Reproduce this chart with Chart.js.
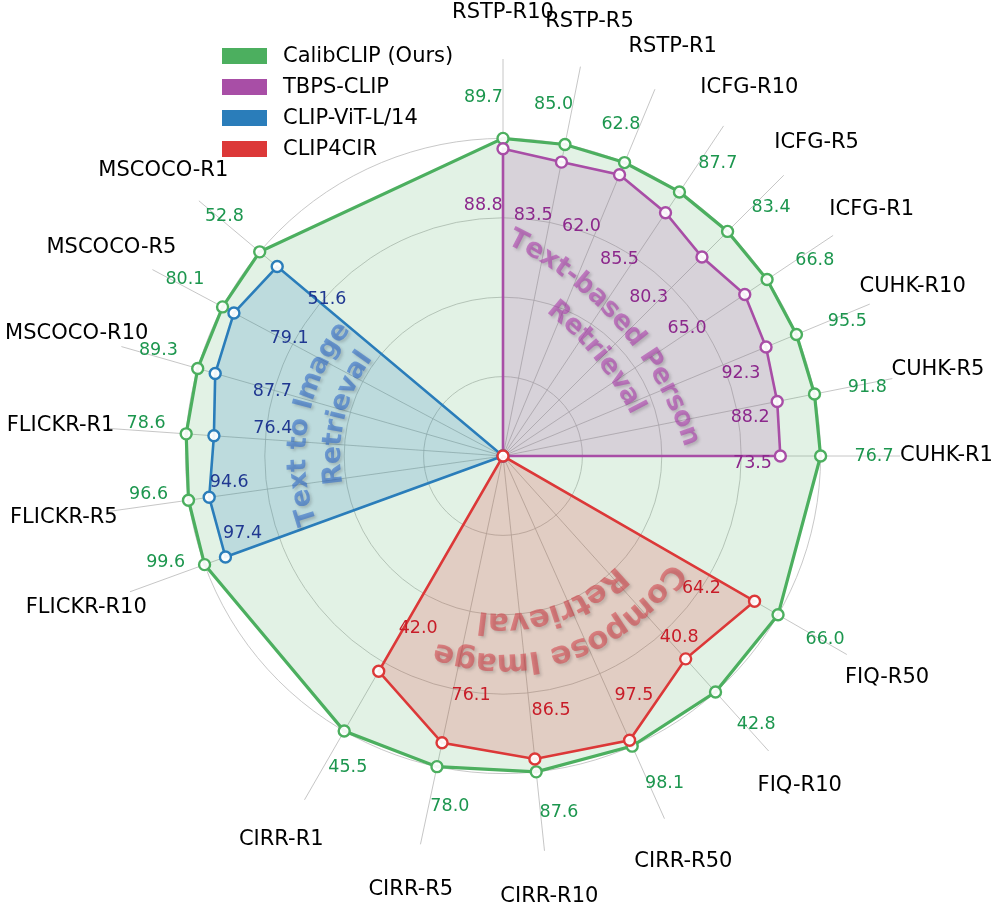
<!DOCTYPE html>
<html>
<head>
<meta charset="utf-8">
<title>CalibCLIP radar</title>
<script src="https://cdn.jsdelivr.net/npm/chart.js@4.4.1/dist/chart.umd.min.js"></script>
<style>
  html, body { margin: 0; padding: 0; background: #fff; }
  #wrap { width: 996px; height: 905px; }
</style>
</head>
<body>
<div id="wrap"><canvas id="radar" width="996" height="905"></canvas></div>
<script>
// --- values ---
const axisNames = [
    'RSTP-R10', 'RSTP-R5', 'RSTP-R1', 'ICFG-R10', 'ICFG-R5', 'ICFG-R1', 'CUHK-R10', 'CUHK-R5', 'CUHK-R1',
    'FIQ-R50', 'FIQ-R10', 'CIRR-R50', 'CIRR-R10', 'CIRR-R5', 'CIRR-R1',
    'FLICKR-R10', 'FLICKR-R5', 'FLICKR-R1', 'MSCOCO-R10', 'MSCOCO-R5', 'MSCOCO-R1'
];
const calibclipScores = [89.7, 85.0, 62.8, 87.7, 83.4, 66.8, 95.5, 91.8, 76.7,
    66.0, 42.8, 98.1, 87.6, 78.0, 45.5,
    99.6, 96.6, 78.6, 89.3, 80.1, 52.8];
const tbpsClipScores = [88.8, 83.5, 62.0, 85.5, 80.3, 65.0, 92.3, 88.2, 73.5];   // RSTP .. CUHK
const clip4cirScores = [64.2, 40.8, 97.5, 86.5, 76.1, 42.0];                     // FIQ .. CIRR
const clipL14Scores = [97.4, 94.6, 76.4, 87.7, 79.1, 51.6];                      // FLICKR .. MSCOCO

// task groups: first axis, number of axes, bearing of first axis and spacing (deg, clockwise from top)
const taskGroups = [
    { title: ['Text-based Person', 'Retrieval'], from: 0, count: 9, start: 0, step: 11.25 },
    { title: ['Compose Image', 'Retrieval'], from: 9, count: 6, start: 120, step: 18 },
    { title: ['Text to Image', 'Retrieval'], from: 15, count: 6, start: 250, step: 12 }
];

// the dial is split in quarter degrees so every axis lands on a label slot
const SLOTS = 1440;
const axisBearing = [];
taskGroups.forEach(g => {
    for (let k = 0; k < g.count; k++) axisBearing[g.from + k] = g.start + k * g.step;
});
const slotOf = b => Math.round(b * SLOTS / 360);
const axisSlot = axisBearing.map(slotOf);
const slotLabels = new Array(SLOTS).fill('');
axisSlot.forEach((s, i) => { slotLabels[s] = axisNames[i]; });

const FONT = '"DejaVu Sans", "Liberation Sans", sans-serif';

const series = [
    { name: 'CalibCLIP (Ours)', scores: calibclipScores, from: 0,
      line: 'rgb(76,175,95)', fill: 'rgba(76,175,95,0.16)', text: 'rgb(28,150,78)', width: 3.2, order: 3 },
    { name: 'TBPS-CLIP', scores: tbpsClipScores, from: 0, hub: 100,
      line: 'rgb(168,78,166)', fill: 'rgba(168,78,166,0.2)', text: 'rgb(140,40,140)', width: 2.6, order: 2,
      title: 'rgba(170,50,170,0.55)' },
    { name: 'CLIP-ViT-L/14', scores: clipL14Scores, from: 15, hub: 325,
      line: 'rgb(42,125,186)', fill: 'rgba(42,125,186,0.2)', text: 'rgb(32,56,145)', width: 2.6, order: 1,
      title: 'rgba(40,100,200,0.55)' },
    { name: 'CLIP4CIR', scores: clip4cirScores, from: 9, hub: 225,
      line: 'rgb(220,56,56)', fill: 'rgba(220,56,56,0.2)', text: 'rgb(200,28,40)', width: 2.6, order: 0,
      title: 'rgba(210,50,60,0.5)' }
];

// each axis has its own range: from 70% of the lowest score up to the best score
const axisLow = [], axisHigh = [];
axisNames.forEach((n, i) => {
    const vals = series.map(s => s.scores[i - s.from]).filter(v => v !== undefined);
    axisLow[i] = 0.7 * Math.min(...vals);
    axisHigh[i] = Math.max(...vals);
});
const norm = (v, i) => (v - axisLow[i]) / (axisHigh[i] - axisLow[i]);

function toSlots(s) {
    const d = new Array(SLOTS).fill(null);
    s.scores.forEach((v, k) => { d[axisSlot[s.from + k]] = norm(v, s.from + k); });
    if (s.hub !== undefined) d[slotOf(s.hub)] = 0;
    return d;
}

// where the score labels of the baselines sit: share of the point radius, angle shift in degrees
const innerLabelAt = {
    'TBPS-CLIP': { k: [0.819, 0.81, 0.796, 0.78, 0.765, 0.77, 0.885, 0.895, 0.90],
                   d: [-4.5, -4.1, -3.6, -3.05, -2.4, -0.95, 3.3, 2.35, 1.6] },
    'CLIP4CIR': { k: [0.822, 0.926, 0.876, 0.85, 0.824, 0.773],
                  d: [3.8, -2.2, -4.7, -4.7, -4.4, -3.8] },
    'CLIP-ViT-L/14': { k: [0.92, 0.927, 0.80, 0.80, 0.80, 0.80],
                       d: [3.4, 2.5, 2.8, -0.4, 0.7, 1.7] }
};

// --- drawing helpers ---
function polar(scale, bearing, dist) {
    const a = bearing * Math.PI / 180;
    return { x: scale.xCenter + Math.sin(a) * dist, y: scale.yCenter - Math.cos(a) * dist };
}

function calibLabelRule(b) {
    if (b < 30) return { dist: 1.13, align: 'right', base: 'middle', dy: 0 };
    if (b <= 100) return { dist: 1.107, align: 'left', base: 'middle', dy: 0 };
    if (b <= 235) return { dist: 1.10, align: 'left', base: 'top', dy: 0 };
    return { dist: 1.065, align: 'right', base: 'bottom', dy: -Math.max(0, b - 276) * 0.4 };
}

// writes str along a circle around (cx, cy), letters upright away from the centre
function arcText(ctx, cx, cy, str, radius, midBearing) {
    const chars = [...str];
    const widths = chars.map(c => ctx.measureText(c).width);
    const total = widths.reduce((a, b) => a + b, 0);
    let b = midBearing * Math.PI / 180 - total / 2 / radius;
    chars.forEach((c, i) => {
        const mid = b + widths[i] / 2 / radius;
        ctx.save();
        ctx.translate(cx + Math.sin(mid) * radius, cy - Math.cos(mid) * radius);
        ctx.rotate(mid);
        ctx.fillText(c, 0, 0);
        ctx.restore();
        b += widths[i] / radius;
    });
}

// group titles: arc centre offset and line radii (share of the unit circle), mid bearing, font size
const titleLayout = [
    { shift: [-0.45, 0.302], radii: [1.097, 0.978], mids: [48.8, 50.5], size: 27, color: series[1].title },
    { shift: [0, 0], radii: [0.65, 0.522], mids: [161, 161.5], size: 31, color: series[3].title },
    { shift: [0, 0], radii: [0.645, 0.535], mids: [280, 283.5], size: 27, color: series[2].title }
];

const overlay = {
    id: 'overlay',
    afterDatasetsDraw(chart) {
        const ctx = chart.ctx;
        const scale = chart.scales.r;
        const R = scale.getDistanceFromCenterForValue(1);

        // curved group titles
        ctx.save();
        ctx.textAlign = 'center';
        ctx.textBaseline = 'middle';
        ctx.shadowColor = 'rgba(50,50,50,0.4)';
        ctx.shadowBlur = 3;
        ctx.shadowOffsetX = 2;
        ctx.shadowOffsetY = 2;
        taskGroups.forEach((g, gi) => {
            const lay = titleLayout[gi];
            ctx.font = 'bold ' + lay.size + 'px ' + FONT;
            ctx.fillStyle = lay.color;
            const cx = scale.xCenter + lay.shift[0] * R;
            const cy = scale.yCenter + lay.shift[1] * R;
            g.title.forEach((line, li) => arcText(ctx, cx, cy, line, lay.radii[li] * R, lay.mids[li]));
        });
        ctx.restore();

        // score labels
        ctx.save();
        ctx.font = '17.5px ' + FONT;
        const calib = series[0];
        calib.scores.forEach((v, i) => {
            const rule = calibLabelRule(axisBearing[i]);
            const p = scale.getPointPosition(axisSlot[i], rule.dist * R);
            ctx.fillStyle = calib.text;
            ctx.textAlign = rule.align;
            ctx.textBaseline = rule.base;
            ctx.fillText(v.toFixed(1), p.x, p.y + rule.dy);
        });
        ctx.textAlign = 'center';
        ctx.textBaseline = 'middle';
        series.slice(1).forEach(s => {
            const at = innerLabelAt[s.name];
            ctx.fillStyle = s.text;
            s.scores.forEach((v, k) => {
                const i = s.from + k;
                const pr = scale.getDistanceFromCenterForValue(norm(v, i));
                const p = polar(scale, axisBearing[i] + at.d[k], at.k[k] * pr);
                ctx.fillText(v.toFixed(1), p.x, p.y);
            });
        });
        ctx.restore();
    },
    afterDraw(chart) {
        const ctx = chart.ctx;
        const scale = chart.scales.r;

        // axis names
        ctx.save();
        ctx.font = '21px ' + FONT;
        ctx.fillStyle = '#000';
        ctx.textAlign = 'center';
        ctx.textBaseline = 'middle';
        axisNames.forEach((n, i) => {
            const p = scale.getPointPosition(axisSlot[i], scale.drawingArea * 1.117);
            ctx.fillText(n, p.x, p.y);
        });

        // legend
        ctx.textAlign = 'left';
        series.forEach((s, i) => {
            const y = 48 + i * 31;
            ctx.fillStyle = s.line;
            ctx.fillRect(222, y, 45, 16);
            ctx.fillStyle = '#000';
            ctx.fillText(s.name, 283, y + 8.5);
        });
        ctx.restore();
    }
};

new Chart(document.getElementById('radar'), {
    type: 'radar',
    data: {
        labels: slotLabels,
        datasets: series.map(s => ({
            label: s.name,
            data: toSlots(s),
            order: s.order,
            borderColor: s.line,
            backgroundColor: s.fill,
            borderWidth: s.width,
            fill: true,
            spanGaps: true,
            tension: 0,
            pointRadius: 5.5,
            pointHoverRadius: 5.5,
            pointBorderWidth: 2.4,
            pointBorderColor: s.line,
            pointBackgroundColor: 'rgba(255,255,255,0.92)'
        }))
    },
    options: {
        responsive: false,
        animation: false,
        events: [],
        layout: { padding: { left: 105, right: 95, top: 59, bottom: 51 } },
        plugins: { legend: { display: false }, tooltip: { enabled: false } },
        scales: {
            r: {
                min: 0,
                max: 1.25,
                startAngle: 0,
                ticks: { display: false, stepSize: 0.25 },
                grid: {
                    circular: true,
                    lineWidth: 0.8,
                    color: ctx => (ctx.tick && ctx.tick.value > 1.001) ? 'rgba(0,0,0,0)' : '#bababa'
                },
                angleLines: {
                    lineWidth: ctx => ctx.label ? 0.8 : 0,
                    color: '#b8b8b8'
                },
                pointLabels: { display: false }
            }
        }
    },
    plugins: [overlay]
});
</script>
</body>
</html>
